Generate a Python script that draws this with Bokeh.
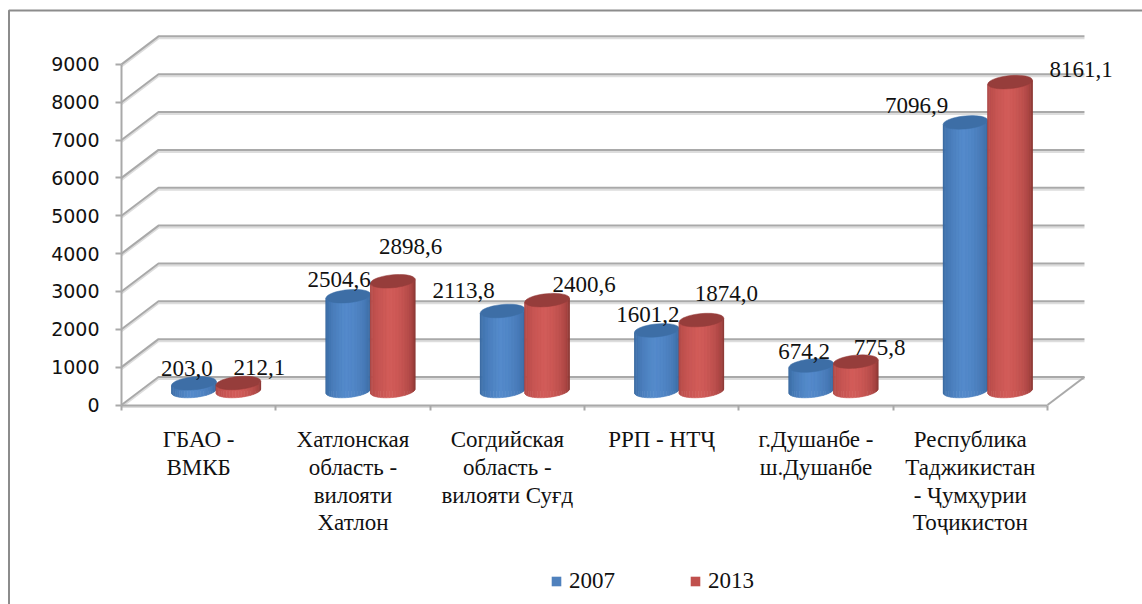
import math
from bokeh.embed import file_html
from bokeh.resources import INLINE
from bokeh.core.properties import value
from bokeh.plotting import figure
from bokeh.models import LinearAxis, FixedTicker, Legend, LegendItem, ColumnDataSource

# ---- data ----
categories = ["ГБАО -\nВМКБ", "Хатлонская\nобласть -\nвилояти\nХатлон",
              "Согдийская\nобласть -\nвилояти Суғд", "РРП - НТҶ",
              "г.Душанбе -\nш.Душанбе", "Республика\nТаджикистан\n- Ҷумҳурии\nТоҷикистон"]
v2007 = [203.0, 2504.6, 2113.8, 1601.2, 674.2, 7096.9]
v2013 = [212.1, 2898.6, 2400.6, 1874.0, 775.8, 8161.1]
l2007 = ["203,0", "2504,6", "2113,8", "1601,2", "674,2", "7096,9"]
l2013 = ["212,1", "2898,6", "2400,6", "1874,0", "775,8", "8161,1"]
y_ticks = [0, 1000, 2000, 3000, 4000, 5000, 6000, 7000, 8000, 9000]

# ---- layout ----
W, H = 1142, 604
PX = 154.33      # px per category
PY = 0.03785     # px per value unit
X0, Y0 = 121, 404.5   # frame px of origin
dx = 1 / PX
dy = 1 / PY
DEPTH_X, DEPTH_Y = 37 * dx, 28 * dy
GRID = "#a9a9a9"
SHADOW = "#dddddd"
FONT = value("Liberation Serif")

p = figure(width=W, height=H, output_backend="svg", toolbar_location=None,
           x_range=(-X0 * dx, (W - X0) * dx), y_range=(-(H - Y0) * dy, Y0 * dy),
           x_axis_location=None, y_axis_location=None, min_border=0,
           outline_line_color=None, background_fill_color="white", border_fill_color="white")
p.grid.visible = False

# outer frame of the chart
right, top, left, bottom = p.x_range.end, p.y_range.end - 10 * dy, p.x_range.start + 8.5 * dx, p.y_range.start
p.line([left, left, right], [bottom, top, top], line_color="#8c8c8c", line_width=2)

# walls
n = len(categories)
for t in y_ticks:
    p.line([0, DEPTH_X, n + DEPTH_X], [t - 2 * dy, t + DEPTH_Y - 2 * dy, t + DEPTH_Y - 2 * dy], line_color=SHADOW, line_width=2)
    p.line([0, DEPTH_X, n + DEPTH_X], [t, t + DEPTH_Y, t + DEPTH_Y], line_color=GRID, line_width=2)
p.line([n, n + DEPTH_X], [0, DEPTH_Y], line_color=GRID, line_width=2)
p.line([0, n], [-2 * dy, -2 * dy], line_color=SHADOW, line_width=2)

# axes drawn in the plane of the floor / side wall
ya = LinearAxis(fixed_location=0, bounds=(0, 9000), ticker=FixedTicker(ticks=y_ticks), axis_line_color=GRID,
                axis_line_width=2, major_tick_line_color=GRID, major_tick_line_width=2, major_tick_out=6,
                major_tick_in=0, minor_tick_line_color=None, major_label_text_font="DejaVu Sans",
                major_label_text_font_size="19px", major_label_text_color="#111111", major_label_standoff=16)
p.add_layout(ya, "left")
xa = LinearAxis(fixed_location=0, bounds=(0, n),
                ticker=FixedTicker(ticks=[i + 0.5 for i in range(n)], minor_ticks=list(range(n + 1))),
                major_label_overrides={i + 0.5: c for i, c in enumerate(categories)},
                axis_line_color=GRID, axis_line_width=2, major_tick_line_color=None,
                minor_tick_line_color=GRID, minor_tick_line_width=2, minor_tick_out=5, minor_tick_in=0,
                major_tick_out=0, major_tick_in=0, major_label_standoff=17,
                major_label_text_font="Liberation Serif", major_label_text_font_size="23px",
                major_label_text_line_height=1.11, major_label_text_color="#111111")
p.add_layout(xa, "below")


def lerp(c1, c2, t):
    return "#%02x%02x%02x" % tuple(round(a + (b - a) * t) for a, b in zip(c1, c2))


def ellipse(cx, cy, a, b, k, t0=0.0, t1=2 * math.pi, steps=40):
    xs, ys = [], []
    for i in range(steps + 1):
        t = t0 + (t1 - t0) * i / steps
        xs.append(cx + a * dx * math.cos(t))
        ys.append(cy + (b * math.sin(t) + k * math.cos(t)) * dy)
    return xs, ys


A, B, K = 22.3, 6.5, 2.0


def cylinder(cx, val, edgeL, mid, edgeR, topc):
    cy0 = DEPTH_Y / 2
    cy1 = cy0 + val
    xs_all, ys_all, cols = [], [], []
    N = 22
    for j in range(N):
        # strips running from the left edge to the right edge
        a0, a1 = math.pi - math.pi * j / N, math.pi - math.pi * (j + 1) / N
        xa_, xb_ = cx + A * dx * math.cos(a0), cx + A * dx * math.cos(a1)
        def yl(t, c):
            return c + (-B * math.sin(t) + K * math.cos(t)) * dy
        xs_all.append([xa_, xb_, xb_, xa_])
        ys_all.append([yl(a0, cy0), yl(a1, cy0), yl(a1, cy1), yl(a0, cy1)])
        s = (j + 0.5) / N
        if s < 0.45:
            c = lerp(edgeL, mid, (s / 0.45) ** 0.7)
        else:
            c = lerp(mid, edgeR, ((s - 0.45) / 0.55) ** 1.6)
        cols.append(c)
    p.patches(xs_all, ys_all, fill_color=cols, line_color=cols, line_width=0.6)
    tx, ty = ellipse(cx, cy1, A, B, K)
    p.patch(tx, ty, fill_color=topc, line_color=topc, line_width=0.5)


BW = 44.5 * dx
OFF = 17.5 * dx   # shift of the cylinders into the depth of the floor
cx07 = [i + 0.5 + OFF - BW / 2 for i in range(n)]
cx13 = [i + 0.5 + OFF + BW / 2 for i in range(n)]

# flat base bars: these carry the legend swatches; the shaded cylinder is drawn over them
base07 = p.vbar(x=cx07, top=[v + DEPTH_Y / 2 for v in v2007], bottom=DEPTH_Y / 2, width=BW * 0.9, fill_color="#4f81bd", line_color=None)
base13 = p.vbar(x=cx13, top=[v + DEPTH_Y / 2 for v in v2013], bottom=DEPTH_Y / 2, width=BW * 0.9, fill_color="#c0504d", line_color=None)

for i in range(n):
    cylinder(cx07[i], v2007[i], (47, 95, 148), (84, 138, 203), (52, 98, 152), "#3d6ea6")
    cylinder(cx13[i], v2013[i], (165, 66, 64), (210, 92, 89), (135, 50, 48), "#963d3b")

# data labels: offsets from the top of their cylinder
off07 = ([-7, -9, -39, -9, -7, -49], [15, 17, 20, 16, 14, 17])
off13 = ([21, 18, 37, 25, 24, 71], [15, 35, 16, 27, 14, 13])
for cxs, vals, labs, off in ((cx07, v2007, l2007, off07), (cx13, v2013, l2013, off13)):
    src = ColumnDataSource(dict(x=cxs, y=[v + DEPTH_Y / 2 for v in vals], t=labs, xo=off[0], yo=[-o for o in off[1]]))
    p.text("x", "y", text="t", source=src, x_offset="xo", y_offset="yo", text_font=FONT, text_font_size="23px",
           text_align="center", text_baseline="middle", text_color="#111111")

legend = Legend(items=[LegendItem(label="2007", renderers=[base07]), LegendItem(label="2013", renderers=[base13])],
                orientation="horizontal", location=(550, 10), background_fill_alpha=0, border_line_color=None,
                glyph_width=12, glyph_height=12, spacing=74, label_standoff=7, margin=0, padding=4,
                label_text_font="Liberation Serif", label_text_font_size="23px", label_text_color="#111111")
p.add_layout(legend, "center")

open("out.html", "w").write(file_html(p, INLINE))
